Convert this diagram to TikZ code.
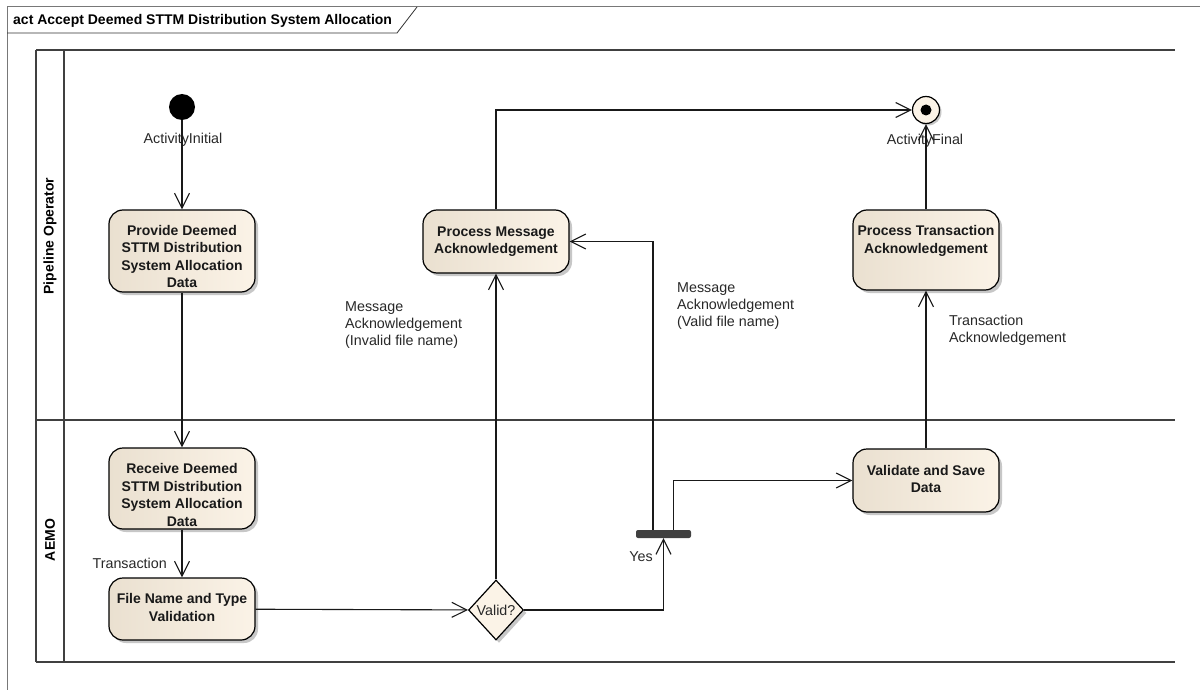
\documentclass[tikz,border=0pt]{standalone}
\usepackage{fontspec}
\setmainfont{Liberation Sans}
\usetikzlibrary{arrows.meta,shapes.geometric,shadows}
\definecolor{tanLeft}{RGB}{234,224,208}
\definecolor{tanRight}{RGB}{251,243,231}
\definecolor{laneGray}{RGB}{64,64,64}
\definecolor{frameGray}{RGB}{120,120,120}
\definecolor{labelGray}{RGB}{40,40,40}
\newcommand{\boxText}[2]{\raisebox{#1}[\height][\depth]{\begin{tabular}{@{}c@{}}#2\end{tabular}}}
\tikzset{
  actBox/.style={draw=black, line width=1.2pt, rounded corners=14pt, left color=tanLeft, right color=tanRight, drop shadow={shadow xshift=3pt, shadow yshift=-3pt, fill=black!22, opacity=1}, font=\bfseries\fontsize{14}{17.5}\selectfont, text=black!90, inner sep=0pt, minimum width=146pt},
  decisionNode/.style={diamond, draw=black, line width=1.2pt, fill=tanRight, drop shadow={shadow xshift=3pt, shadow yshift=-3pt, fill=black!22, opacity=1}, minimum width=55pt, minimum height=60pt, inner sep=0pt, font=\fontsize{14.3}{17}\selectfont, text=labelGray},
  lblText/.style={font=\fontsize{14.3}{17}\selectfont, text=labelGray, inner sep=0pt, align=left},
  flowLine/.style={line width=1.1pt, draw=black!90, -{Straight Barb[length=15pt,width=15pt]}},
  laneLine/.style={line width=2pt, draw=laneGray},
}
\begin{document}
\begin{tikzpicture}[x=1pt, y=-1pt]
    \useasboundingbox (0,0) rectangle (1200,690);
    \fill[white] (0,0) rectangle (1200,690);
    % frame
    \draw[frameGray, line width=1pt] (7,690) -- (7,7) -- (1200,7);
    \draw[black!80, line width=0.8pt] (7,33) -- (397,33) -- (417,7);
    \node[anchor=west, inner sep=0pt, font=\bfseries\fontsize{14}{16}\selectfont] (title) at (13,21) {act Accept Deemed STTM Distribution System Allocation};
    % lanes
    \foreach \y in {50,420,662} \draw[laneLine] (36,\y) -- (1175,\y);
    \foreach \x in {36,64} \draw[laneLine] (\x,50) -- (\x,662);
    \node[rotate=90, font=\bfseries\fontsize{14}{17}\selectfont] (laneTop) at (50,236) {Pipeline Operator};
    \node[rotate=90, font=\bfseries\fontsize{14}{17}\selectfont] (laneBottom) at (50,540) {AEMO};
    % nodes
    \node[circle, fill=black, minimum size=26pt, inner sep=0pt] (init) at (182,107) {};
    \node[lblText] (initLbl) at (183,140) {ActivityInitial};
    \node[actBox, minimum height=82pt] (provide) at (182,251) {\boxText{-7pt}{Provide Deemed\\STTM Distribution\\System Allocation\\Data}};
    \node[actBox, minimum height=81pt] (receive) at (182,488.5) {\boxText{-8pt}{Receive Deemed\\STTM Distribution\\System Allocation\\Data}};
    \node[actBox, minimum height=62pt] (fileName) at (182,609) {\boxText{0pt}{File Name and Type\\Validation}};
    \node[decisionNode] (valid) at (496,610) {Valid?};
    \node[actBox, minimum height=63pt] (procMsg) at (496,241.5) {\boxText{0pt}{Process Message\\Acknowledgement}};
    \node[fill=laneGray, rounded corners=2pt, minimum width=55pt, minimum height=8pt, inner sep=0pt] (fork) at (663.5,534) {};
    \node[actBox, minimum height=63pt] (validate) at (926,480.5) {\boxText{0pt}{Validate and Save\\Data}};
    \node[actBox, minimum height=80pt] (procTrans) at (926,250) {\boxText{9pt}{Process Transaction\\Acknowledgement}};
    \node[circle, draw=black, line width=1.2pt, fill=tanRight, minimum size=27pt, inner sep=0pt, drop shadow={shadow xshift=2pt, shadow yshift=-2pt, fill=black!22, opacity=1}] (final) at (926,110) {};
    \fill[black] (final) circle (5.5pt);
    \node[lblText] (finalLbl) at (925,141) {ActivityFinal};
    % labels
    \node[lblText, anchor=east] (transLbl) at (167,563) {Transaction};
    \node[lblText, anchor=west] (invalidLbl) at (345,325) {Message\\Acknowledgement\\(Invalid file name)};
    \node[lblText, anchor=west] (validLbl) at (677,306) {Message\\Acknowledgement\\(Valid file name)};
    \node[lblText, anchor=east] (yesLbl) at (653,557) {Yes};
    \node[lblText, anchor=west] (transAckLbl) at (949,330.5) {Transaction\\Acknowledgement};
    % flows
    \draw[flowLine] (init) -- (provide);
    \draw[flowLine] (provide) -- (receive);
    \draw[flowLine] (receive) -- (fileName);
    \draw[flowLine] (fileName) -- (valid);
    \draw[flowLine] (valid) -- (procMsg);
    \draw[flowLine] (valid) -| (fork);
    \draw[flowLine] ([xshift=-10.5pt]fork.north) |- (procMsg);
    \draw[flowLine] ([xshift=10pt]fork.north) |- (validate);
    \draw[flowLine] (validate) -- (procTrans);
    \draw[flowLine] (procTrans) -- (final);
    \draw[flowLine] (procMsg) |- (final);
\end{tikzpicture}
\end{document}
